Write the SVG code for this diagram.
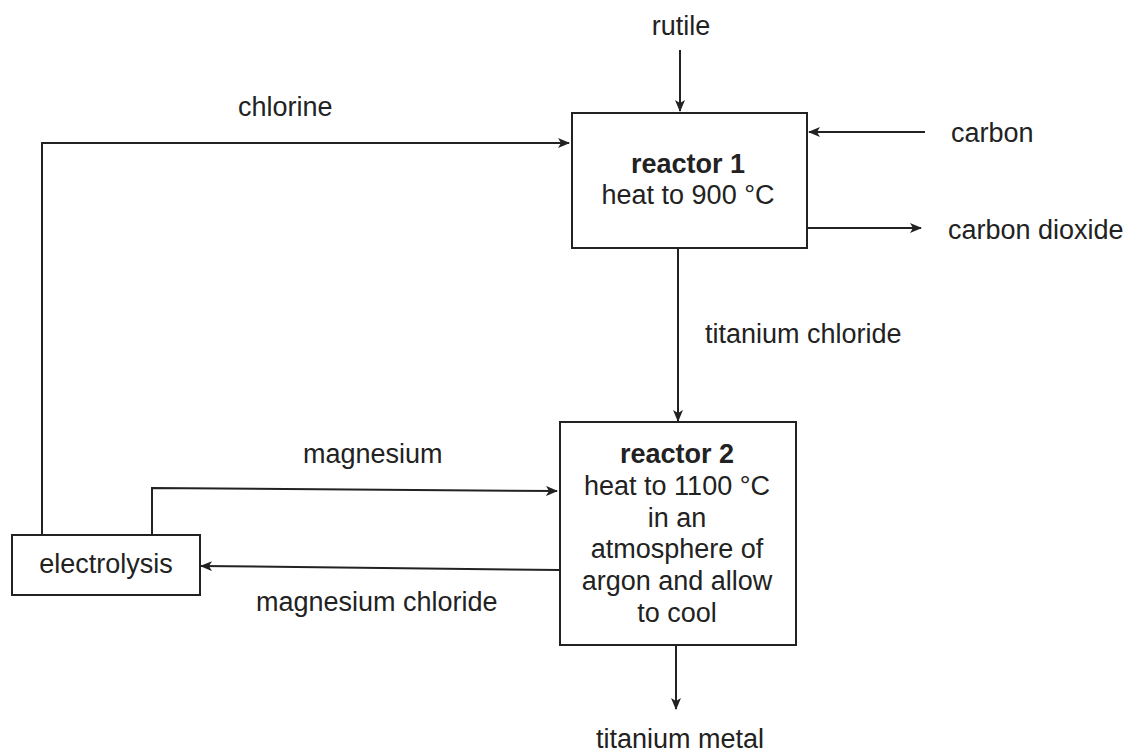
<svg xmlns="http://www.w3.org/2000/svg" width="1130" height="753" viewBox="0 0 1130 753">
<defs>
<marker id="arr" markerWidth="12" markerHeight="10" refX="11" refY="5" orient="auto" markerUnits="userSpaceOnUse">
<path d="M0,0 L12,5 L0,10 L3,5 Z" fill="#222"/>
</marker>
</defs>
<style>
text{font-family:"Liberation Sans",Arial,sans-serif;font-size:27px;fill:#222}
.b{font-weight:bold}
.box{fill:#fff;stroke:#222;stroke-width:2}
.c{fill:none;stroke:#222;stroke-width:2}
</style>
<rect width="1130" height="753" fill="#fff"/>
<g id="connectors">
<line class="c" x1="680" y1="50" x2="680" y2="111" marker-end="url(#arr)"/>
<line class="c" x1="925" y1="132" x2="809" y2="132" marker-end="url(#arr)"/>
<line class="c" x1="807" y1="228" x2="921" y2="228" marker-end="url(#arr)"/>
<line class="c" x1="678" y1="248" x2="678" y2="421" marker-end="url(#arr)"/>
<polyline class="c" points="42,535 42,143 569,143" marker-end="url(#arr)"/>
<polyline class="c" points="152,535 152,488 557,491" marker-end="url(#arr)"/>
<line class="c" x1="560" y1="570" x2="201" y2="566" marker-end="url(#arr)"/>
<line class="c" x1="676" y1="645" x2="676" y2="709" marker-end="url(#arr)"/>
</g>
<g id="reactor1">
<rect class="box" x="572" y="113" width="235" height="135"/>
<text class="b" x="688" y="173" text-anchor="middle">reactor 1</text>
<text x="688" y="204" text-anchor="middle">heat to 900 °C</text>
</g>
<g id="reactor2">
<rect class="box" x="560" y="422" width="236" height="223"/>
<text class="b" x="677" y="463" text-anchor="middle">reactor 2</text>
<text x="677" y="495" text-anchor="middle">heat to 1100 °C</text>
<text x="677" y="527" text-anchor="middle">in an</text>
<text x="677" y="558" text-anchor="middle">atmosphere of</text>
<text x="677" y="590" text-anchor="middle">argon and allow</text>
<text x="677" y="622" text-anchor="middle">to cool</text>
</g>
<g id="electrolysis">
<rect class="box" x="12" y="535" width="188" height="60"/>
<text x="106" y="573" text-anchor="middle">electrolysis</text>
</g>
<g id="labels">
<text x="681" y="35" text-anchor="middle">rutile</text>
<text x="238" y="116">chlorine</text>
<text x="951" y="142">carbon</text>
<text x="948" y="239">carbon dioxide</text>
<text x="705" y="343">titanium chloride</text>
<text x="303" y="463">magnesium</text>
<text x="256" y="611">magnesium chloride</text>
<text x="680" y="748" text-anchor="middle">titanium metal</text>
</g>
</svg>
